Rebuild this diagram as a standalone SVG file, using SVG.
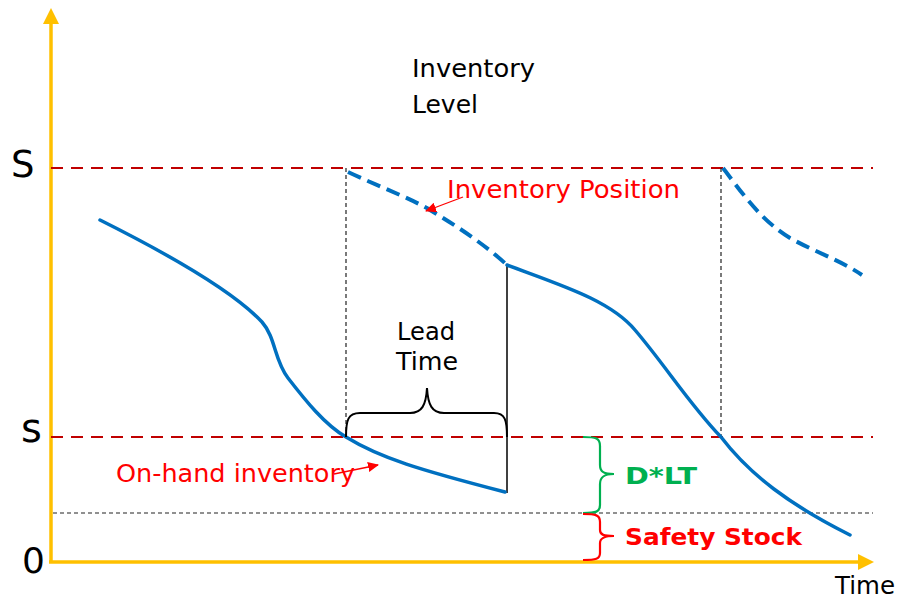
<svg xmlns="http://www.w3.org/2000/svg" width="899" height="602" viewBox="0 0 899 602">
<style>
.t{font-family:"DejaVu Sans",Verdana,sans-serif;}
.ref{stroke:#C00000;stroke-width:2.2;stroke-dasharray:12,8;fill:none}
.vd{stroke:#222;stroke-width:1.2;stroke-dasharray:4,3;fill:none}
.blue{stroke:#0070C0;stroke-width:3.5;fill:none;stroke-linecap:round}
.bdash{stroke:#0070C0;stroke-width:4;fill:none;stroke-dasharray:14,7}
.axis{stroke:#FFC000;stroke-width:3.5;fill:none}
</style>
<defs>
<marker id="ra" markerWidth="12" markerHeight="10" refX="10" refY="5" orient="auto" markerUnits="userSpaceOnUse"><path d="M0,0 L11,5 L0,10 Z" fill="#FF0000"/></marker>
</defs>
<rect width="899" height="602" fill="#fff"/>
<g id="axes">
<line class="axis" x1="51" y1="562" x2="51" y2="22"/>
<polygon points="51,8 43,24 59,24" fill="#FFC000"/>
<line class="axis" x1="49" y1="562" x2="860" y2="562"/>
<polygon points="874,562 858,554 858,570" fill="#FFC000"/>
</g>
<g id="reference-lines">
<line class="ref" x1="51" y1="168" x2="873" y2="168"/>
<line class="ref" x1="51" y1="437" x2="873" y2="437"/>
<line class="vd" x1="53" y1="513" x2="873" y2="513"/>
<line class="vd" x1="346" y1="168" x2="346" y2="437"/>
<line class="vd" x1="721" y1="168" x2="721" y2="437"/>
<line stroke="#000" stroke-width="1.5" x1="507" y1="265" x2="507" y2="493"/>
</g>
<g id="connectors">
<path class="blue" d="M100,220 C160,250 232,290 262,322 C276,338 274,360 288,378 C305,400 325,425 346,437 C380,458 420,470 505,492"/>
<path class="blue" d="M507,265 C560,285 610,300 635,330 C665,365 690,405 721,437 C750,475 790,505 850,535"/>
<path class="bdash" d="M348,172 C380,187 410,198 430,210 C460,228 485,245 507,265"/>
<path class="bdash" d="M723,168 C740,190 760,220 790,238 C815,252 840,260 862,275"/>
<line stroke="#FF0000" stroke-width="1.3" x1="463" y1="197" x2="426" y2="211" marker-end="url(#ra)"/>
<line stroke="#FF0000" stroke-width="1.3" x1="334" y1="474" x2="378" y2="465" marker-end="url(#ra)"/>
<path d="M346,437 C346,420 348,413 360,413 L410,413 C422,413 426,405 427,388 C428,405 432,413 444,413 L494,413 C505,413 507,420 507,437" stroke="#000" stroke-width="2" fill="none"/>
<path d="M583,437 C596,437 600,438 600,446 L600,465 C600,472 604,474 614,474 C604,474 600,477 600,484 L600,505 C600,512 596,513 583,513" stroke="#00B050" stroke-width="2.2" fill="none"/>
<path d="M583,514 C596,514 600,515 600,522 L600,530 C600,535 604,536 614,536 C604,536 600,538 600,543 L600,553 C600,559 596,560 583,560" stroke="#FF0000" stroke-width="2.2" fill="none"/>
</g>
<g id="labels" class="t">
<text x="11" y="177" font-size="37" fill="#000">S</text>
<text x="21" y="442" font-size="40" fill="#000">s</text>
<text x="22" y="573" font-size="36" fill="#000">0</text>
<text x="412" y="77" font-size="25" fill="#000" textLength="123" lengthAdjust="spacingAndGlyphs">Inventory</text>
<text x="412" y="113" font-size="25" fill="#000" textLength="66" lengthAdjust="spacingAndGlyphs">Level</text>
<text x="447" y="198" font-size="24" fill="#FF0000" textLength="233" lengthAdjust="spacingAndGlyphs">Inventory Position</text>
<text x="397" y="340" font-size="25" fill="#000" textLength="58" lengthAdjust="spacingAndGlyphs">Lead</text>
<text x="396" y="370" font-size="25" fill="#000" textLength="62" lengthAdjust="spacingAndGlyphs">Time</text>
<text x="116" y="482" font-size="24" fill="#FF0000" textLength="239" lengthAdjust="spacingAndGlyphs">On-hand inventory</text>
<text x="625" y="484" font-size="23" font-weight="bold" fill="#00B050" textLength="72" lengthAdjust="spacingAndGlyphs">D*LT</text>
<text x="625" y="545" font-size="23" font-weight="bold" fill="#FF0000" textLength="177" lengthAdjust="spacingAndGlyphs">Safety Stock</text>
<text x="835" y="594" font-size="24" fill="#000" textLength="60" lengthAdjust="spacingAndGlyphs">Time</text>
</g>
</svg>
